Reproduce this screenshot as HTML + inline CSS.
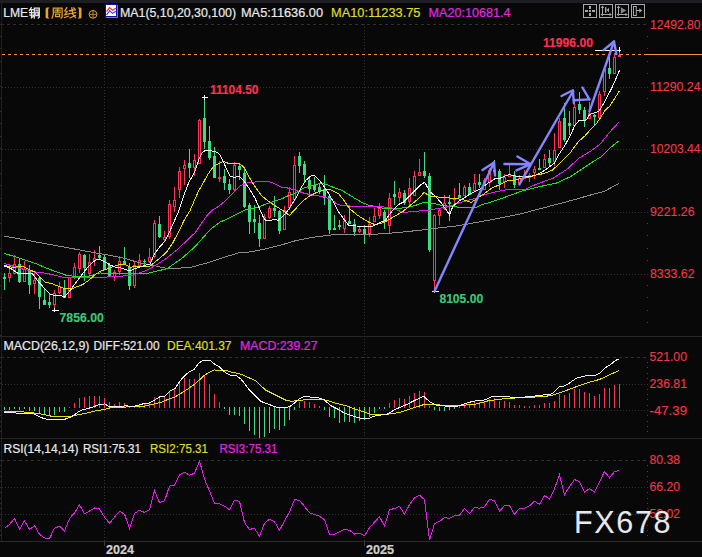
<!DOCTYPE html><html><head><meta charset="utf-8"><style>html,body{margin:0;padding:0;background:#080808;overflow:hidden}svg{display:block}</style></head><body><svg width="702" height="557" viewBox="0 0 702 557"><rect x="0" y="0" width="702" height="557" fill="#080808"/><rect x="0" y="0" width="702" height="3" fill="#1d1e21"/><g shape-rendering="crispEdges"><rect x="1" y="3" width="1" height="538" fill="#202020"/><rect x="0" y="336" width="702" height="1" fill="#262626"/><rect x="0" y="438" width="702" height="1" fill="#262626"/><rect x="0" y="541" width="702" height="1" fill="#2a2a2a"/><line x1="2" y1="24.5" x2="648" y2="24.5" stroke="#2f2f2f" stroke-width="1" stroke-dasharray="3 3" stroke-dashoffset="1"/><line x1="2" y1="87.5" x2="648" y2="87.5" stroke="#303030" stroke-width="1" stroke-dasharray="1 2"/><line x1="2" y1="149.5" x2="648" y2="149.5" stroke="#303030" stroke-width="1" stroke-dasharray="1 2"/><line x1="2" y1="212.5" x2="648" y2="212.5" stroke="#303030" stroke-width="1" stroke-dasharray="1 2"/><line x1="2" y1="274.5" x2="648" y2="274.5" stroke="#303030" stroke-width="1" stroke-dasharray="1 2"/><line x1="2" y1="357.5" x2="648" y2="357.5" stroke="#2f2f2f" stroke-width="1" stroke-dasharray="3 3" stroke-dashoffset="1"/><line x1="2" y1="384.5" x2="648" y2="384.5" stroke="#303030" stroke-width="1" stroke-dasharray="1 2"/><line x1="2" y1="410.5" x2="648" y2="410.5" stroke="#303030" stroke-width="1" stroke-dasharray="1 2"/><line x1="2" y1="460.5" x2="648" y2="460.5" stroke="#2f2f2f" stroke-width="1" stroke-dasharray="3 3" stroke-dashoffset="1"/><line x1="2" y1="487.5" x2="648" y2="487.5" stroke="#303030" stroke-width="1" stroke-dasharray="1 2"/><line x1="2" y1="514.5" x2="648" y2="514.5" stroke="#303030" stroke-width="1" stroke-dasharray="1 2"/><line x1="104.5" y1="24" x2="104.5" y2="336" stroke="#303030" stroke-width="1" stroke-dasharray="1 2"/><line x1="104.5" y1="339" x2="104.5" y2="438" stroke="#303030" stroke-width="1" stroke-dasharray="1 2"/><line x1="104.5" y1="441" x2="104.5" y2="541" stroke="#303030" stroke-width="1" stroke-dasharray="1 2"/><rect x="104" y="542" width="1" height="4" fill="#3a3a3a"/><line x1="364.5" y1="24" x2="364.5" y2="336" stroke="#303030" stroke-width="1" stroke-dasharray="1 2"/><line x1="364.5" y1="339" x2="364.5" y2="438" stroke="#303030" stroke-width="1" stroke-dasharray="1 2"/><line x1="364.5" y1="441" x2="364.5" y2="541" stroke="#303030" stroke-width="1" stroke-dasharray="1 2"/><rect x="364" y="542" width="1" height="4" fill="#3a3a3a"/><rect x="647" y="36" width="1" height="1" fill="#444"/><rect x="647" y="48" width="1" height="1" fill="#444"/><rect x="647" y="61" width="1" height="1" fill="#444"/><rect x="647" y="73" width="1" height="1" fill="#444"/><rect x="647" y="98" width="1" height="1" fill="#444"/><rect x="647" y="111" width="1" height="1" fill="#444"/><rect x="647" y="123" width="1" height="1" fill="#444"/><rect x="647" y="136" width="1" height="1" fill="#444"/><rect x="647" y="160" width="1" height="1" fill="#444"/><rect x="647" y="173" width="1" height="1" fill="#444"/><rect x="647" y="185" width="1" height="1" fill="#444"/><rect x="647" y="198" width="1" height="1" fill="#444"/><rect x="647" y="223" width="1" height="1" fill="#444"/><rect x="647" y="235" width="1" height="1" fill="#444"/><rect x="647" y="248" width="1" height="1" fill="#444"/><rect x="647" y="260" width="1" height="1" fill="#444"/><rect x="647" y="285" width="1" height="1" fill="#444"/><rect x="647" y="297" width="1" height="1" fill="#444"/><rect x="647" y="310" width="1" height="1" fill="#444"/><rect x="647" y="322" width="1" height="1" fill="#444"/><rect x="647" y="362" width="1" height="1" fill="#444"/><rect x="647" y="367" width="1" height="1" fill="#444"/><rect x="647" y="373" width="1" height="1" fill="#444"/><rect x="647" y="378" width="1" height="1" fill="#444"/><rect x="647" y="389" width="1" height="1" fill="#444"/><rect x="647" y="394" width="1" height="1" fill="#444"/><rect x="647" y="399" width="1" height="1" fill="#444"/><rect x="647" y="405" width="1" height="1" fill="#444"/><rect x="647" y="415" width="1" height="1" fill="#444"/><rect x="647" y="421" width="1" height="1" fill="#444"/><rect x="647" y="426" width="1" height="1" fill="#444"/><rect x="647" y="431" width="1" height="1" fill="#444"/><rect x="647" y="465" width="1" height="1" fill="#444"/><rect x="647" y="471" width="1" height="1" fill="#444"/><rect x="647" y="476" width="1" height="1" fill="#444"/><rect x="647" y="481" width="1" height="1" fill="#444"/><rect x="647" y="492" width="1" height="1" fill="#444"/><rect x="647" y="498" width="1" height="1" fill="#444"/><rect x="647" y="503" width="1" height="1" fill="#444"/><rect x="647" y="508" width="1" height="1" fill="#444"/><rect x="647" y="519" width="1" height="1" fill="#444"/><rect x="647" y="525" width="1" height="1" fill="#444"/><rect x="647" y="530" width="1" height="1" fill="#444"/><rect x="647" y="535" width="1" height="1" fill="#444"/><rect x="0" y="24" width="1" height="1" fill="#2c2c2c"/><rect x="0" y="36" width="1" height="1" fill="#2c2c2c"/><rect x="0" y="48" width="1" height="1" fill="#2c2c2c"/><rect x="0" y="61" width="1" height="1" fill="#2c2c2c"/><rect x="0" y="73" width="1" height="1" fill="#2c2c2c"/><rect x="0" y="86" width="1" height="1" fill="#2c2c2c"/><rect x="0" y="98" width="1" height="1" fill="#2c2c2c"/><rect x="0" y="111" width="1" height="1" fill="#2c2c2c"/><rect x="0" y="123" width="1" height="1" fill="#2c2c2c"/><rect x="0" y="136" width="1" height="1" fill="#2c2c2c"/><rect x="0" y="148" width="1" height="1" fill="#2c2c2c"/><rect x="0" y="160" width="1" height="1" fill="#2c2c2c"/><rect x="0" y="173" width="1" height="1" fill="#2c2c2c"/><rect x="0" y="185" width="1" height="1" fill="#2c2c2c"/><rect x="0" y="198" width="1" height="1" fill="#2c2c2c"/><rect x="0" y="210" width="1" height="1" fill="#2c2c2c"/><rect x="0" y="223" width="1" height="1" fill="#2c2c2c"/><rect x="0" y="235" width="1" height="1" fill="#2c2c2c"/><rect x="0" y="248" width="1" height="1" fill="#2c2c2c"/><rect x="0" y="260" width="1" height="1" fill="#2c2c2c"/><rect x="0" y="273" width="1" height="1" fill="#2c2c2c"/><rect x="0" y="285" width="1" height="1" fill="#2c2c2c"/><rect x="0" y="297" width="1" height="1" fill="#2c2c2c"/><rect x="0" y="310" width="1" height="1" fill="#2c2c2c"/><rect x="0" y="322" width="1" height="1" fill="#2c2c2c"/><rect x="0" y="335" width="1" height="1" fill="#2c2c2c"/><rect x="0" y="357" width="1" height="1" fill="#2c2c2c"/><rect x="0" y="362" width="1" height="1" fill="#2c2c2c"/><rect x="0" y="367" width="1" height="1" fill="#2c2c2c"/><rect x="0" y="373" width="1" height="1" fill="#2c2c2c"/><rect x="0" y="378" width="1" height="1" fill="#2c2c2c"/><rect x="0" y="383" width="1" height="1" fill="#2c2c2c"/><rect x="0" y="389" width="1" height="1" fill="#2c2c2c"/><rect x="0" y="394" width="1" height="1" fill="#2c2c2c"/><rect x="0" y="399" width="1" height="1" fill="#2c2c2c"/><rect x="0" y="405" width="1" height="1" fill="#2c2c2c"/><rect x="0" y="410" width="1" height="1" fill="#2c2c2c"/><rect x="0" y="415" width="1" height="1" fill="#2c2c2c"/><rect x="0" y="421" width="1" height="1" fill="#2c2c2c"/><rect x="0" y="426" width="1" height="1" fill="#2c2c2c"/><rect x="0" y="431" width="1" height="1" fill="#2c2c2c"/><rect x="0" y="460" width="1" height="1" fill="#2c2c2c"/><rect x="0" y="465" width="1" height="1" fill="#2c2c2c"/><rect x="0" y="471" width="1" height="1" fill="#2c2c2c"/><rect x="0" y="476" width="1" height="1" fill="#2c2c2c"/><rect x="0" y="481" width="1" height="1" fill="#2c2c2c"/><rect x="0" y="487" width="1" height="1" fill="#2c2c2c"/><rect x="0" y="492" width="1" height="1" fill="#2c2c2c"/><rect x="0" y="498" width="1" height="1" fill="#2c2c2c"/><rect x="0" y="503" width="1" height="1" fill="#2c2c2c"/><rect x="0" y="508" width="1" height="1" fill="#2c2c2c"/><rect x="0" y="514" width="1" height="1" fill="#2c2c2c"/><rect x="0" y="519" width="1" height="1" fill="#2c2c2c"/><rect x="0" y="525" width="1" height="1" fill="#2c2c2c"/><rect x="0" y="530" width="1" height="1" fill="#2c2c2c"/><rect x="0" y="535" width="1" height="1" fill="#2c2c2c"/></g><line x1="2" y1="54.5" x2="644" y2="54.5" stroke="#f0962a" stroke-width="1" stroke-dasharray="3 3" shape-rendering="crispEdges"/><rect x="644" y="54" width="58" height="1" fill="#f0962a"/><g shape-rendering="crispEdges"><rect x="4" y="273" width="1" height="17" fill="#3ddc84"/><rect x="3" y="277" width="3" height="2" fill="#3ddc84"/><rect x="9" y="264" width="1" height="9" fill="#ff3358"/><rect x="9" y="278" width="1" height="4" fill="#ff3358"/><rect x="8" y="273" width="3" height="1" fill="#ff3358"/><rect x="8" y="277" width="3" height="1" fill="#ff3358"/><rect x="8" y="273" width="1" height="5" fill="#ff3358"/><rect x="10" y="273" width="1" height="5" fill="#ff3358"/><rect x="14" y="255" width="1" height="9" fill="#ff3358"/><rect x="13" y="264" width="3" height="1" fill="#ff3358"/><rect x="13" y="273" width="3" height="1" fill="#ff3358"/><rect x="13" y="264" width="1" height="10" fill="#ff3358"/><rect x="15" y="264" width="1" height="10" fill="#ff3358"/><rect x="19" y="259" width="1" height="24" fill="#3ddc84"/><rect x="18" y="264" width="3" height="18" fill="#3ddc84"/><rect x="24" y="261" width="1" height="8" fill="#ff3358"/><rect x="23" y="269" width="3" height="1" fill="#ff3358"/><rect x="23" y="281" width="3" height="1" fill="#ff3358"/><rect x="23" y="269" width="1" height="13" fill="#ff3358"/><rect x="25" y="269" width="1" height="13" fill="#ff3358"/><rect x="29" y="265" width="1" height="29" fill="#3ddc84"/><rect x="28" y="270" width="3" height="15" fill="#3ddc84"/><rect x="34" y="272" width="1" height="8" fill="#ff3358"/><rect x="34" y="284" width="1" height="10" fill="#ff3358"/><rect x="33" y="280" width="3" height="1" fill="#ff3358"/><rect x="33" y="283" width="3" height="1" fill="#ff3358"/><rect x="33" y="280" width="1" height="4" fill="#ff3358"/><rect x="35" y="280" width="1" height="4" fill="#ff3358"/><rect x="39" y="277" width="1" height="32" fill="#3ddc84"/><rect x="38" y="278" width="3" height="19" fill="#3ddc84"/><rect x="44" y="288" width="1" height="17" fill="#3ddc84"/><rect x="43" y="300" width="3" height="5" fill="#3ddc84"/><rect x="49" y="294" width="1" height="14" fill="#3ddc84"/><rect x="48" y="302" width="3" height="3" fill="#3ddc84"/><rect x="54" y="290" width="1" height="3" fill="#ff3358"/><rect x="54" y="305" width="1" height="5" fill="#ff3358"/><rect x="53" y="293" width="3" height="1" fill="#ff3358"/><rect x="53" y="304" width="3" height="1" fill="#ff3358"/><rect x="53" y="293" width="1" height="12" fill="#ff3358"/><rect x="55" y="293" width="1" height="12" fill="#ff3358"/><rect x="59" y="282" width="1" height="4" fill="#ff3358"/><rect x="59" y="293" width="1" height="1" fill="#ff3358"/><rect x="58" y="286" width="3" height="1" fill="#ff3358"/><rect x="58" y="292" width="3" height="1" fill="#ff3358"/><rect x="58" y="286" width="1" height="7" fill="#ff3358"/><rect x="60" y="286" width="1" height="7" fill="#ff3358"/><rect x="64" y="280" width="1" height="18" fill="#3ddc84"/><rect x="63" y="288" width="3" height="10" fill="#3ddc84"/><rect x="68" y="277" width="3" height="1" fill="#ff3358"/><rect x="68" y="297" width="3" height="1" fill="#ff3358"/><rect x="68" y="277" width="1" height="21" fill="#ff3358"/><rect x="70" y="277" width="1" height="21" fill="#ff3358"/><rect x="74" y="263" width="1" height="4" fill="#ff3358"/><rect x="74" y="278" width="1" height="1" fill="#ff3358"/><rect x="73" y="267" width="3" height="1" fill="#ff3358"/><rect x="73" y="277" width="3" height="1" fill="#ff3358"/><rect x="73" y="267" width="1" height="11" fill="#ff3358"/><rect x="75" y="267" width="1" height="11" fill="#ff3358"/><rect x="79" y="252" width="1" height="2" fill="#ff3358"/><rect x="79" y="269" width="1" height="4" fill="#ff3358"/><rect x="78" y="254" width="3" height="1" fill="#ff3358"/><rect x="78" y="268" width="3" height="1" fill="#ff3358"/><rect x="78" y="254" width="1" height="15" fill="#ff3358"/><rect x="80" y="254" width="1" height="15" fill="#ff3358"/><rect x="84" y="254" width="1" height="27" fill="#3ddc84"/><rect x="83" y="255" width="3" height="13" fill="#3ddc84"/><rect x="89" y="254" width="1" height="8" fill="#ff3358"/><rect x="89" y="274" width="1" height="4" fill="#ff3358"/><rect x="88" y="262" width="3" height="1" fill="#ff3358"/><rect x="88" y="273" width="3" height="1" fill="#ff3358"/><rect x="88" y="262" width="1" height="12" fill="#ff3358"/><rect x="90" y="262" width="1" height="12" fill="#ff3358"/><rect x="94" y="250" width="1" height="8" fill="#ff3358"/><rect x="94" y="261" width="1" height="5" fill="#ff3358"/><rect x="93" y="258" width="3" height="1" fill="#ff3358"/><rect x="93" y="260" width="3" height="1" fill="#ff3358"/><rect x="93" y="258" width="1" height="3" fill="#ff3358"/><rect x="95" y="258" width="1" height="3" fill="#ff3358"/><rect x="99" y="246" width="1" height="13" fill="#3ddc84"/><rect x="98" y="255" width="3" height="3" fill="#3ddc84"/><rect x="104" y="255" width="1" height="15" fill="#3ddc84"/><rect x="103" y="257" width="3" height="13" fill="#3ddc84"/><rect x="109" y="263" width="1" height="14" fill="#3ddc84"/><rect x="108" y="265" width="3" height="12" fill="#3ddc84"/><rect x="114" y="270" width="1" height="2" fill="#ff3358"/><rect x="114" y="277" width="1" height="4" fill="#ff3358"/><rect x="113" y="272" width="3" height="1" fill="#ff3358"/><rect x="113" y="276" width="3" height="1" fill="#ff3358"/><rect x="113" y="272" width="1" height="5" fill="#ff3358"/><rect x="115" y="272" width="1" height="5" fill="#ff3358"/><rect x="119" y="256" width="1" height="5" fill="#ff3358"/><rect x="119" y="272" width="1" height="3" fill="#ff3358"/><rect x="118" y="261" width="3" height="1" fill="#ff3358"/><rect x="118" y="271" width="3" height="1" fill="#ff3358"/><rect x="118" y="261" width="1" height="11" fill="#ff3358"/><rect x="120" y="261" width="1" height="11" fill="#ff3358"/><rect x="124" y="247" width="1" height="18" fill="#3ddc84"/><rect x="123" y="261" width="3" height="3" fill="#3ddc84"/><rect x="129" y="263" width="1" height="27" fill="#3ddc84"/><rect x="128" y="267" width="3" height="19" fill="#3ddc84"/><rect x="134" y="262" width="1" height="3" fill="#ff3358"/><rect x="134" y="286" width="1" height="2" fill="#ff3358"/><rect x="133" y="265" width="3" height="1" fill="#ff3358"/><rect x="133" y="285" width="3" height="1" fill="#ff3358"/><rect x="133" y="265" width="1" height="21" fill="#ff3358"/><rect x="135" y="265" width="1" height="21" fill="#ff3358"/><rect x="139" y="254" width="1" height="6" fill="#ff3358"/><rect x="139" y="266" width="1" height="2" fill="#ff3358"/><rect x="138" y="260" width="3" height="1" fill="#ff3358"/><rect x="138" y="265" width="3" height="1" fill="#ff3358"/><rect x="138" y="260" width="1" height="6" fill="#ff3358"/><rect x="140" y="260" width="1" height="6" fill="#ff3358"/><rect x="144" y="259" width="1" height="6" fill="#3ddc84"/><rect x="143" y="261" width="3" height="1" fill="#3ddc84"/><rect x="149" y="248" width="1" height="9" fill="#ff3358"/><rect x="149" y="262" width="1" height="1" fill="#ff3358"/><rect x="148" y="257" width="3" height="1" fill="#ff3358"/><rect x="148" y="261" width="3" height="1" fill="#ff3358"/><rect x="148" y="257" width="1" height="5" fill="#ff3358"/><rect x="150" y="257" width="1" height="5" fill="#ff3358"/><rect x="154" y="220" width="1" height="3" fill="#ff3358"/><rect x="154" y="257" width="1" height="1" fill="#ff3358"/><rect x="153" y="223" width="3" height="1" fill="#ff3358"/><rect x="153" y="256" width="3" height="1" fill="#ff3358"/><rect x="153" y="223" width="1" height="34" fill="#ff3358"/><rect x="155" y="223" width="1" height="34" fill="#ff3358"/><rect x="159" y="216" width="1" height="22" fill="#3ddc84"/><rect x="158" y="224" width="3" height="13" fill="#3ddc84"/><rect x="164" y="231" width="1" height="6" fill="#ff3358"/><rect x="164" y="240" width="1" height="2" fill="#ff3358"/><rect x="163" y="237" width="3" height="1" fill="#ff3358"/><rect x="163" y="239" width="3" height="1" fill="#ff3358"/><rect x="163" y="237" width="1" height="3" fill="#ff3358"/><rect x="165" y="237" width="1" height="3" fill="#ff3358"/><rect x="169" y="200" width="1" height="4" fill="#ff3358"/><rect x="169" y="237" width="1" height="2" fill="#ff3358"/><rect x="168" y="204" width="3" height="1" fill="#ff3358"/><rect x="168" y="236" width="3" height="1" fill="#ff3358"/><rect x="168" y="204" width="1" height="33" fill="#ff3358"/><rect x="170" y="204" width="1" height="33" fill="#ff3358"/><rect x="174" y="187" width="1" height="13" fill="#ff3358"/><rect x="174" y="207" width="1" height="5" fill="#ff3358"/><rect x="173" y="200" width="3" height="1" fill="#ff3358"/><rect x="173" y="206" width="3" height="1" fill="#ff3358"/><rect x="173" y="200" width="1" height="7" fill="#ff3358"/><rect x="175" y="200" width="1" height="7" fill="#ff3358"/><rect x="179" y="167" width="1" height="4" fill="#ff3358"/><rect x="179" y="190" width="1" height="8" fill="#ff3358"/><rect x="178" y="171" width="3" height="1" fill="#ff3358"/><rect x="178" y="189" width="3" height="1" fill="#ff3358"/><rect x="178" y="171" width="1" height="19" fill="#ff3358"/><rect x="180" y="171" width="1" height="19" fill="#ff3358"/><rect x="184" y="160" width="1" height="5" fill="#ff3358"/><rect x="184" y="169" width="1" height="16" fill="#ff3358"/><rect x="183" y="165" width="3" height="1" fill="#ff3358"/><rect x="183" y="168" width="3" height="1" fill="#ff3358"/><rect x="183" y="165" width="1" height="4" fill="#ff3358"/><rect x="185" y="165" width="1" height="4" fill="#ff3358"/><rect x="189" y="149" width="1" height="29" fill="#3ddc84"/><rect x="188" y="163" width="3" height="5" fill="#3ddc84"/><rect x="194" y="154" width="1" height="6" fill="#ff3358"/><rect x="194" y="168" width="1" height="8" fill="#ff3358"/><rect x="193" y="160" width="3" height="1" fill="#ff3358"/><rect x="193" y="167" width="3" height="1" fill="#ff3358"/><rect x="193" y="160" width="1" height="8" fill="#ff3358"/><rect x="195" y="160" width="1" height="8" fill="#ff3358"/><rect x="199" y="119" width="1" height="1" fill="#ff3358"/><rect x="198" y="120" width="3" height="1" fill="#ff3358"/><rect x="198" y="163" width="3" height="1" fill="#ff3358"/><rect x="198" y="120" width="1" height="44" fill="#ff3358"/><rect x="200" y="120" width="1" height="44" fill="#ff3358"/><rect x="204" y="97" width="1" height="52" fill="#3ddc84"/><rect x="203" y="118" width="3" height="24" fill="#3ddc84"/><rect x="209" y="126" width="1" height="34" fill="#3ddc84"/><rect x="208" y="141" width="3" height="17" fill="#3ddc84"/><rect x="214" y="147" width="1" height="31" fill="#3ddc84"/><rect x="213" y="156" width="3" height="22" fill="#3ddc84"/><rect x="219" y="161" width="1" height="16" fill="#ff3358"/><rect x="219" y="179" width="1" height="3" fill="#ff3358"/><rect x="218" y="177" width="3" height="2" fill="#ff3358"/><rect x="224" y="169" width="1" height="21" fill="#3ddc84"/><rect x="223" y="176" width="3" height="7" fill="#3ddc84"/><rect x="229" y="179" width="1" height="15" fill="#3ddc84"/><rect x="228" y="184" width="3" height="6" fill="#3ddc84"/><rect x="234" y="162" width="1" height="3" fill="#ff3358"/><rect x="234" y="190" width="1" height="1" fill="#ff3358"/><rect x="233" y="165" width="3" height="1" fill="#ff3358"/><rect x="233" y="189" width="3" height="1" fill="#ff3358"/><rect x="233" y="165" width="1" height="25" fill="#ff3358"/><rect x="235" y="165" width="1" height="25" fill="#ff3358"/><rect x="239" y="164" width="1" height="16" fill="#3ddc84"/><rect x="238" y="166" width="3" height="4" fill="#3ddc84"/><rect x="244" y="167" width="1" height="41" fill="#3ddc84"/><rect x="243" y="173" width="3" height="34" fill="#3ddc84"/><rect x="249" y="203" width="1" height="31" fill="#3ddc84"/><rect x="248" y="205" width="3" height="17" fill="#3ddc84"/><rect x="254" y="205" width="1" height="28" fill="#3ddc84"/><rect x="253" y="219" width="3" height="3" fill="#3ddc84"/><rect x="259" y="215" width="1" height="32" fill="#3ddc84"/><rect x="258" y="223" width="3" height="16" fill="#3ddc84"/><rect x="264" y="214" width="1" height="3" fill="#ff3358"/><rect x="263" y="217" width="3" height="1" fill="#ff3358"/><rect x="263" y="238" width="3" height="1" fill="#ff3358"/><rect x="263" y="217" width="1" height="22" fill="#ff3358"/><rect x="265" y="217" width="1" height="22" fill="#ff3358"/><rect x="269" y="206" width="1" height="2" fill="#ff3358"/><rect x="269" y="218" width="1" height="1" fill="#ff3358"/><rect x="268" y="208" width="3" height="1" fill="#ff3358"/><rect x="268" y="217" width="3" height="1" fill="#ff3358"/><rect x="268" y="208" width="1" height="10" fill="#ff3358"/><rect x="270" y="208" width="1" height="10" fill="#ff3358"/><rect x="274" y="196" width="1" height="21" fill="#3ddc84"/><rect x="273" y="208" width="3" height="3" fill="#3ddc84"/><rect x="279" y="210" width="1" height="24" fill="#3ddc84"/><rect x="278" y="211" width="3" height="20" fill="#3ddc84"/><rect x="284" y="206" width="1" height="4" fill="#ff3358"/><rect x="283" y="210" width="3" height="1" fill="#ff3358"/><rect x="283" y="229" width="3" height="1" fill="#ff3358"/><rect x="283" y="210" width="1" height="20" fill="#ff3358"/><rect x="285" y="210" width="1" height="20" fill="#ff3358"/><rect x="289" y="187" width="1" height="5" fill="#ff3358"/><rect x="289" y="208" width="1" height="2" fill="#ff3358"/><rect x="288" y="192" width="3" height="1" fill="#ff3358"/><rect x="288" y="207" width="3" height="1" fill="#ff3358"/><rect x="288" y="192" width="1" height="16" fill="#ff3358"/><rect x="290" y="192" width="1" height="16" fill="#ff3358"/><rect x="294" y="156" width="1" height="9" fill="#ff3358"/><rect x="293" y="165" width="3" height="1" fill="#ff3358"/><rect x="293" y="199" width="3" height="1" fill="#ff3358"/><rect x="293" y="165" width="1" height="35" fill="#ff3358"/><rect x="295" y="165" width="1" height="35" fill="#ff3358"/><rect x="299" y="152" width="1" height="21" fill="#3ddc84"/><rect x="298" y="156" width="3" height="10" fill="#3ddc84"/><rect x="304" y="161" width="1" height="21" fill="#3ddc84"/><rect x="303" y="164" width="3" height="11" fill="#3ddc84"/><rect x="309" y="176" width="1" height="21" fill="#3ddc84"/><rect x="308" y="180" width="3" height="9" fill="#3ddc84"/><rect x="314" y="177" width="1" height="15" fill="#3ddc84"/><rect x="313" y="185" width="3" height="5" fill="#3ddc84"/><rect x="319" y="183" width="1" height="11" fill="#3ddc84"/><rect x="318" y="187" width="3" height="5" fill="#3ddc84"/><rect x="324" y="175" width="1" height="30" fill="#3ddc84"/><rect x="323" y="189" width="3" height="9" fill="#3ddc84"/><rect x="329" y="195" width="1" height="39" fill="#3ddc84"/><rect x="328" y="196" width="3" height="34" fill="#3ddc84"/><rect x="334" y="215" width="1" height="15" fill="#3ddc84"/><rect x="333" y="228" width="3" height="2" fill="#3ddc84"/><rect x="339" y="220" width="1" height="10" fill="#3ddc84"/><rect x="338" y="225" width="3" height="2" fill="#3ddc84"/><rect x="344" y="215" width="1" height="6" fill="#ff3358"/><rect x="344" y="229" width="1" height="4" fill="#ff3358"/><rect x="343" y="221" width="3" height="1" fill="#ff3358"/><rect x="343" y="228" width="3" height="1" fill="#ff3358"/><rect x="343" y="221" width="1" height="8" fill="#ff3358"/><rect x="345" y="221" width="1" height="8" fill="#ff3358"/><rect x="349" y="206" width="1" height="18" fill="#3ddc84"/><rect x="348" y="221" width="3" height="3" fill="#3ddc84"/><rect x="354" y="219" width="1" height="17" fill="#3ddc84"/><rect x="353" y="224" width="3" height="8" fill="#3ddc84"/><rect x="359" y="226" width="1" height="3" fill="#ff3358"/><rect x="359" y="232" width="1" height="1" fill="#ff3358"/><rect x="358" y="229" width="3" height="1" fill="#ff3358"/><rect x="358" y="231" width="3" height="1" fill="#ff3358"/><rect x="358" y="229" width="1" height="3" fill="#ff3358"/><rect x="360" y="229" width="1" height="3" fill="#ff3358"/><rect x="364" y="225" width="1" height="19" fill="#3ddc84"/><rect x="363" y="229" width="3" height="5" fill="#3ddc84"/><rect x="369" y="217" width="1" height="7" fill="#ff3358"/><rect x="369" y="234" width="1" height="3" fill="#ff3358"/><rect x="368" y="224" width="3" height="1" fill="#ff3358"/><rect x="368" y="233" width="3" height="1" fill="#ff3358"/><rect x="368" y="224" width="1" height="10" fill="#ff3358"/><rect x="370" y="224" width="1" height="10" fill="#ff3358"/><rect x="374" y="208" width="1" height="8" fill="#ff3358"/><rect x="373" y="216" width="3" height="1" fill="#ff3358"/><rect x="373" y="221" width="3" height="1" fill="#ff3358"/><rect x="373" y="216" width="1" height="6" fill="#ff3358"/><rect x="375" y="216" width="1" height="6" fill="#ff3358"/><rect x="379" y="203" width="1" height="5" fill="#ff3358"/><rect x="379" y="216" width="1" height="3" fill="#ff3358"/><rect x="378" y="208" width="3" height="1" fill="#ff3358"/><rect x="378" y="215" width="3" height="1" fill="#ff3358"/><rect x="378" y="208" width="1" height="8" fill="#ff3358"/><rect x="380" y="208" width="1" height="8" fill="#ff3358"/><rect x="384" y="210" width="1" height="19" fill="#3ddc84"/><rect x="383" y="212" width="3" height="10" fill="#3ddc84"/><rect x="389" y="193" width="1" height="5" fill="#ff3358"/><rect x="389" y="226" width="1" height="7" fill="#ff3358"/><rect x="388" y="198" width="3" height="1" fill="#ff3358"/><rect x="388" y="225" width="3" height="1" fill="#ff3358"/><rect x="388" y="198" width="1" height="28" fill="#ff3358"/><rect x="390" y="198" width="1" height="28" fill="#ff3358"/><rect x="394" y="181" width="1" height="24" fill="#3ddc84"/><rect x="393" y="194" width="3" height="3" fill="#3ddc84"/><rect x="399" y="188" width="1" height="4" fill="#ff3358"/><rect x="399" y="198" width="1" height="4" fill="#ff3358"/><rect x="398" y="192" width="3" height="1" fill="#ff3358"/><rect x="398" y="197" width="3" height="1" fill="#ff3358"/><rect x="398" y="192" width="1" height="6" fill="#ff3358"/><rect x="400" y="192" width="1" height="6" fill="#ff3358"/><rect x="404" y="190" width="1" height="15" fill="#3ddc84"/><rect x="403" y="193" width="3" height="10" fill="#3ddc84"/><rect x="409" y="178" width="1" height="10" fill="#ff3358"/><rect x="409" y="202" width="1" height="3" fill="#ff3358"/><rect x="408" y="188" width="3" height="1" fill="#ff3358"/><rect x="408" y="201" width="3" height="1" fill="#ff3358"/><rect x="408" y="188" width="1" height="14" fill="#ff3358"/><rect x="410" y="188" width="1" height="14" fill="#ff3358"/><rect x="414" y="171" width="1" height="5" fill="#ff3358"/><rect x="413" y="176" width="3" height="1" fill="#ff3358"/><rect x="413" y="195" width="3" height="1" fill="#ff3358"/><rect x="413" y="176" width="1" height="20" fill="#ff3358"/><rect x="415" y="176" width="1" height="20" fill="#ff3358"/><rect x="419" y="159" width="1" height="13" fill="#ff3358"/><rect x="418" y="172" width="3" height="1" fill="#ff3358"/><rect x="418" y="175" width="3" height="1" fill="#ff3358"/><rect x="418" y="172" width="1" height="4" fill="#ff3358"/><rect x="420" y="172" width="1" height="4" fill="#ff3358"/><rect x="424" y="152" width="1" height="26" fill="#3ddc84"/><rect x="423" y="171" width="3" height="5" fill="#3ddc84"/><rect x="429" y="173" width="1" height="79" fill="#3ddc84"/><rect x="428" y="176" width="3" height="74" fill="#3ddc84"/><rect x="434" y="214" width="1" height="1" fill="#ff3358"/><rect x="434" y="281" width="1" height="10" fill="#ff3358"/><rect x="433" y="215" width="3" height="1" fill="#ff3358"/><rect x="433" y="280" width="3" height="1" fill="#ff3358"/><rect x="433" y="215" width="1" height="66" fill="#ff3358"/><rect x="435" y="215" width="1" height="66" fill="#ff3358"/><rect x="439" y="208" width="1" height="2" fill="#ff3358"/><rect x="439" y="216" width="1" height="9" fill="#ff3358"/><rect x="438" y="210" width="3" height="1" fill="#ff3358"/><rect x="438" y="215" width="3" height="1" fill="#ff3358"/><rect x="438" y="210" width="1" height="6" fill="#ff3358"/><rect x="440" y="210" width="1" height="6" fill="#ff3358"/><rect x="444" y="195" width="1" height="8" fill="#ff3358"/><rect x="444" y="209" width="1" height="1" fill="#ff3358"/><rect x="443" y="203" width="3" height="1" fill="#ff3358"/><rect x="443" y="208" width="3" height="1" fill="#ff3358"/><rect x="443" y="203" width="1" height="6" fill="#ff3358"/><rect x="445" y="203" width="1" height="6" fill="#ff3358"/><rect x="449" y="195" width="1" height="26" fill="#3ddc84"/><rect x="448" y="202" width="3" height="2" fill="#3ddc84"/><rect x="454" y="188" width="1" height="10" fill="#ff3358"/><rect x="454" y="200" width="1" height="5" fill="#ff3358"/><rect x="453" y="198" width="3" height="2" fill="#ff3358"/><rect x="459" y="183" width="1" height="15" fill="#3ddc84"/><rect x="458" y="195" width="3" height="3" fill="#3ddc84"/><rect x="464" y="185" width="1" height="2" fill="#ff3358"/><rect x="463" y="187" width="3" height="1" fill="#ff3358"/><rect x="463" y="195" width="3" height="1" fill="#ff3358"/><rect x="463" y="187" width="1" height="9" fill="#ff3358"/><rect x="465" y="187" width="1" height="9" fill="#ff3358"/><rect x="469" y="183" width="1" height="12" fill="#3ddc84"/><rect x="468" y="187" width="3" height="8" fill="#3ddc84"/><rect x="474" y="174" width="1" height="9" fill="#ff3358"/><rect x="474" y="191" width="1" height="1" fill="#ff3358"/><rect x="473" y="183" width="3" height="1" fill="#ff3358"/><rect x="473" y="190" width="3" height="1" fill="#ff3358"/><rect x="473" y="183" width="1" height="8" fill="#ff3358"/><rect x="475" y="183" width="1" height="8" fill="#ff3358"/><rect x="479" y="174" width="1" height="14" fill="#3ddc84"/><rect x="478" y="182" width="3" height="3" fill="#3ddc84"/><rect x="484" y="178" width="1" height="2" fill="#ff3358"/><rect x="483" y="180" width="3" height="1" fill="#ff3358"/><rect x="483" y="189" width="3" height="1" fill="#ff3358"/><rect x="483" y="180" width="1" height="10" fill="#ff3358"/><rect x="485" y="180" width="1" height="10" fill="#ff3358"/><rect x="489" y="168" width="1" height="2" fill="#ff3358"/><rect x="489" y="183" width="1" height="4" fill="#ff3358"/><rect x="488" y="170" width="3" height="1" fill="#ff3358"/><rect x="488" y="182" width="3" height="1" fill="#ff3358"/><rect x="488" y="170" width="1" height="13" fill="#ff3358"/><rect x="490" y="170" width="1" height="13" fill="#ff3358"/><rect x="494" y="160" width="1" height="12" fill="#3ddc84"/><rect x="493" y="170" width="3" height="2" fill="#3ddc84"/><rect x="499" y="169" width="1" height="21" fill="#3ddc84"/><rect x="498" y="171" width="3" height="13" fill="#3ddc84"/><rect x="504" y="174" width="1" height="3" fill="#ff3358"/><rect x="504" y="182" width="1" height="6" fill="#ff3358"/><rect x="503" y="177" width="3" height="1" fill="#ff3358"/><rect x="503" y="181" width="3" height="1" fill="#ff3358"/><rect x="503" y="177" width="1" height="5" fill="#ff3358"/><rect x="505" y="177" width="1" height="5" fill="#ff3358"/><rect x="509" y="165" width="1" height="9" fill="#ff3358"/><rect x="508" y="174" width="3" height="1" fill="#ff3358"/><rect x="508" y="176" width="3" height="1" fill="#ff3358"/><rect x="508" y="174" width="1" height="3" fill="#ff3358"/><rect x="510" y="174" width="1" height="3" fill="#ff3358"/><rect x="514" y="171" width="1" height="17" fill="#3ddc84"/><rect x="513" y="175" width="3" height="10" fill="#3ddc84"/><rect x="519" y="175" width="1" height="3" fill="#ff3358"/><rect x="518" y="178" width="3" height="1" fill="#ff3358"/><rect x="518" y="183" width="3" height="1" fill="#ff3358"/><rect x="518" y="178" width="1" height="6" fill="#ff3358"/><rect x="520" y="178" width="1" height="6" fill="#ff3358"/><rect x="524" y="170" width="1" height="7" fill="#ff3358"/><rect x="523" y="177" width="3" height="2" fill="#ff3358"/><rect x="529" y="173" width="1" height="2" fill="#ff3358"/><rect x="529" y="178" width="1" height="4" fill="#ff3358"/><rect x="528" y="175" width="3" height="1" fill="#ff3358"/><rect x="528" y="177" width="3" height="1" fill="#ff3358"/><rect x="528" y="175" width="1" height="3" fill="#ff3358"/><rect x="530" y="175" width="1" height="3" fill="#ff3358"/><rect x="534" y="166" width="1" height="3" fill="#ff3358"/><rect x="534" y="173" width="1" height="6" fill="#ff3358"/><rect x="533" y="169" width="3" height="1" fill="#ff3358"/><rect x="533" y="172" width="3" height="1" fill="#ff3358"/><rect x="533" y="169" width="1" height="4" fill="#ff3358"/><rect x="535" y="169" width="1" height="4" fill="#ff3358"/><rect x="539" y="159" width="1" height="11" fill="#3ddc84"/><rect x="538" y="168" width="3" height="2" fill="#3ddc84"/><rect x="544" y="154" width="1" height="5" fill="#ff3358"/><rect x="543" y="159" width="3" height="1" fill="#ff3358"/><rect x="543" y="167" width="3" height="1" fill="#ff3358"/><rect x="543" y="159" width="1" height="9" fill="#ff3358"/><rect x="545" y="159" width="1" height="9" fill="#ff3358"/><rect x="549" y="150" width="1" height="16" fill="#3ddc84"/><rect x="548" y="158" width="3" height="5" fill="#3ddc84"/><rect x="554" y="133" width="1" height="17" fill="#ff3358"/><rect x="554" y="162" width="1" height="4" fill="#ff3358"/><rect x="553" y="150" width="3" height="1" fill="#ff3358"/><rect x="553" y="161" width="3" height="1" fill="#ff3358"/><rect x="553" y="150" width="1" height="12" fill="#ff3358"/><rect x="555" y="150" width="1" height="12" fill="#ff3358"/><rect x="559" y="118" width="1" height="3" fill="#ff3358"/><rect x="558" y="121" width="3" height="1" fill="#ff3358"/><rect x="558" y="147" width="3" height="1" fill="#ff3358"/><rect x="558" y="121" width="1" height="27" fill="#ff3358"/><rect x="560" y="121" width="1" height="27" fill="#ff3358"/><rect x="564" y="103" width="1" height="39" fill="#3ddc84"/><rect x="563" y="118" width="3" height="22" fill="#3ddc84"/><rect x="569" y="111" width="1" height="24" fill="#3ddc84"/><rect x="568" y="123" width="3" height="3" fill="#3ddc84"/><rect x="574" y="104" width="1" height="3" fill="#ff3358"/><rect x="573" y="107" width="3" height="1" fill="#ff3358"/><rect x="573" y="125" width="3" height="1" fill="#ff3358"/><rect x="573" y="107" width="1" height="19" fill="#ff3358"/><rect x="575" y="107" width="1" height="19" fill="#ff3358"/><rect x="579" y="92" width="1" height="22" fill="#3ddc84"/><rect x="578" y="104" width="3" height="6" fill="#3ddc84"/><rect x="584" y="107" width="1" height="20" fill="#3ddc84"/><rect x="583" y="110" width="3" height="10" fill="#3ddc84"/><rect x="589" y="102" width="1" height="11" fill="#ff3358"/><rect x="588" y="113" width="3" height="1" fill="#ff3358"/><rect x="588" y="118" width="3" height="1" fill="#ff3358"/><rect x="588" y="113" width="1" height="6" fill="#ff3358"/><rect x="590" y="113" width="1" height="6" fill="#ff3358"/><rect x="594" y="114" width="1" height="11" fill="#3ddc84"/><rect x="593" y="115" width="3" height="2" fill="#3ddc84"/><rect x="599" y="91" width="1" height="3" fill="#ff3358"/><rect x="598" y="94" width="3" height="1" fill="#ff3358"/><rect x="598" y="117" width="3" height="1" fill="#ff3358"/><rect x="598" y="94" width="1" height="24" fill="#ff3358"/><rect x="600" y="94" width="1" height="24" fill="#ff3358"/><rect x="604" y="66" width="1" height="3" fill="#ff3358"/><rect x="604" y="92" width="1" height="4" fill="#ff3358"/><rect x="603" y="69" width="3" height="1" fill="#ff3358"/><rect x="603" y="91" width="3" height="1" fill="#ff3358"/><rect x="603" y="69" width="1" height="23" fill="#ff3358"/><rect x="605" y="69" width="1" height="23" fill="#ff3358"/><rect x="609" y="52" width="1" height="27" fill="#3ddc84"/><rect x="608" y="68" width="3" height="6" fill="#3ddc84"/><rect x="614" y="53" width="1" height="4" fill="#ff3358"/><rect x="613" y="57" width="3" height="1" fill="#ff3358"/><rect x="613" y="73" width="3" height="1" fill="#ff3358"/><rect x="613" y="57" width="1" height="17" fill="#ff3358"/><rect x="615" y="57" width="1" height="17" fill="#ff3358"/><rect x="619" y="48" width="1" height="9" fill="#ff3358"/><rect x="618" y="55" width="3" height="2" fill="#ff3358"/></g><polyline points="4.3,236.1 50.0,244.5 100.0,253.7 109.4,255.2 123.7,258.1 138.1,262.4 152.5,265.3 166.8,268.4 188.8,267.8 207.7,262.8 226.5,256.5 239.1,252.8 251.5,251.8 265.9,248.9 280.2,245.3 294.6,241.0 311.8,237.4 329.1,235.2 340.0,234.2 349.4,234.7 363.7,234.7 376.7,234.1 392.5,233.0 406.8,231.6 421.2,230.1 435.0,228.4 457.5,225.8 491.8,219.7 520.0,214.0 573.2,200.0 590.5,195.0 604.0,191.5 619.2,183.3" fill="none" stroke="#8c8c8c" stroke-width="1" shape-rendering="crispEdges"/><polyline points="4.3,253.4 21.5,258.7 36.0,263.7 50.0,269.5 66.0,275.2 77.6,276.7 89.0,276.0 100.0,273.0 123.7,273.6 145.3,273.9 156.8,271.0 166.8,268.9 170.0,266.6 182.6,257.8 195.1,246.5 210.2,229.5 220.3,222.0 232.8,216.3 245.4,210.0 250.0,208.8 254.4,208.2 268.7,203.2 283.1,198.2 286.3,196.5 296.0,192.7 303.5,188.3 311.1,185.8 318.6,183.9 324.9,183.9 332.5,187.0 341.3,190.2 348.8,194.6 356.0,199.0 362.3,202.6 368.6,205.2 377.4,207.0 383.7,208.3 391.2,208.7 400.0,208.3 408.8,207.0 416.0,205.2 423.5,202.5 432.4,203.3 441.2,205.2 451.2,206.7 466.3,207.5 476.0,207.5 481.8,204.7 491.8,201.8 506.2,196.8 520.0,191.7 524.4,190.4 538.7,186.8 556.0,183.2 570.3,176.8 581.2,169.5 596.0,159.8 601.7,156.4 611.0,147.1 619.2,140.6" fill="none" stroke="#22e01e" stroke-width="1" shape-rendering="crispEdges"/><polyline points="4.3,263.4 21.5,268.8 36.0,272.0 47.4,273.5 61.8,277.0 77.6,277.4 92.0,278.0 100.0,277.4 116.6,276.5 132.4,275.3 145.3,271.0 156.8,264.6 166.8,258.1 170.0,255.3 177.5,249.6 195.1,232.7 206.4,216.3 212.6,210.0 219.1,206.0 226.6,199.6 232.6,193.2 239.8,186.0 245.0,183.8 248.6,182.4 261.6,181.6 271.6,182.1 281.7,187.4 286.3,187.7 296.0,190.2 302.3,192.7 312.4,195.2 323.7,196.5 332.5,200.3 337.5,204.7 348.8,205.9 356.0,206.5 368.6,207.0 381.2,206.7 391.2,207.7 398.8,210.8 403.8,212.5 410.1,211.7 416.0,211.2 428.6,210.3 437.4,208.4 444.9,207.5 452.5,205.2 460.0,202.5 466.3,200.8 476.0,198.3 484.7,194.6 496.1,191.7 507.6,189.6 520.0,190.0 524.4,189.7 531.6,186.1 543.0,181.8 553.1,178.2 567.5,168.9 579.0,158.1 590.3,151.3 600.0,144.3 608.7,133.3 619.2,121.9" fill="none" stroke="#e020e8" stroke-width="1" shape-rendering="crispEdges"/><polyline points="3.8,265.2 12.6,267.4 22.6,266.4 28.9,269.6 35.2,272.1 40.3,277.7 45.3,282.1 52.8,284.0 59.1,286.5 60.0,287.1 66.3,289.0 72.6,288.4 82.6,284.6 88.9,280.2 95.2,274.6 100.2,271.4 107.7,268.9 115.3,265.8 121.6,264.1 126.6,265.1 130.0,267.2 135.2,266.6 150.1,266.1 154.4,262.5 161.6,256.7 167.4,251.0 173.1,242.4 178.9,230.9 184.6,219.4 190.0,210.7 194.3,200.6 198.6,191.0 202.9,183.4 208.3,173.7 213.7,166.2 219.1,163.5 223.4,161.3 228.8,163.5 239.1,163.2 244.2,167.6 248.6,176.4 254.9,186.4 261.2,195.3 268.7,201.5 276.3,206.6 282.5,210.3 289.5,215.4 296.0,208.4 302.3,201.5 309.8,195.8 316.1,192.7 324.9,189.6 330.0,189.6 338.8,194.0 343.8,200.3 348.8,207.8 356.0,214.1 359.4,216.5 368.0,221.8 375.2,224.7 383.9,222.6 392.5,217.5 402.5,211.8 411.1,204.6 418.3,198.9 424.1,192.4 429.8,196.0 435.0,196.7 441.6,197.5 453.0,198.2 463.1,199.6 471.3,202.5 478.5,197.2 484.8,193.4 492.4,187.7 499.9,184.6 507.4,180.8 513.7,180.2 520.0,178.9 528.8,177.0 536.0,175.1 544.1,173.5 552.2,170.3 561.8,161.4 569.9,153.3 578.0,142.0 584.5,136.3 590.9,129.1 596.0,124.2 601.3,116.5 604.8,110.7 610.0,105.8 614.0,99.5 619.2,91.2" fill="none" stroke="#e8e000" stroke-width="1" shape-rendering="crispEdges"/><polyline points="3.8,265.8 7.5,267.0 12.6,269.6 18.9,274.0 25.2,273.3 32.7,274.0 37.7,280.9 44.0,287.8 50.3,294.1 56.6,296.0 60.0,295.3 64.4,297.2 71.3,289.0 76.3,282.1 81.4,275.2 86.4,268.9 91.4,263.3 96.4,259.5 100.2,259.5 105.2,262.0 110.3,265.2 115.3,267.0 120.3,267.7 125.3,269.5 130.0,271.1 134.3,269.0 140.1,266.8 150.1,263.9 154.4,253.9 158.7,248.1 164.5,241.6 168.8,233.7 173.1,223.7 178.9,210.7 183.5,196.3 188.9,182.3 193.2,174.8 196.5,167.2 198.6,159.7 201.9,153.2 205.1,150.5 210.5,150.5 217.0,152.2 220.2,155.4 223.4,161.9 227.7,171.6 229.9,175.9 234.2,177.5 239.1,176.4 243.5,180.2 248.6,187.7 254.9,197.8 258.0,205.3 263.0,216.6 265.6,220.4 270.6,220.4 273.7,219.2 278.1,220.4 283.8,215.4 288.8,209.1 296.0,197.7 301.0,187.7 306.1,180.1 311.1,175.7 314.9,175.7 321.2,182.6 327.4,191.4 332.5,200.3 337.5,210.3 343.8,219.1 348.8,225.4 356.0,226.0 363.7,226.1 370.9,226.9 378.1,223.3 385.3,220.4 392.5,210.3 398.2,204.6 404.0,201.7 412.6,193.1 421.2,184.5 424.8,182.3 429.8,191.7 435.0,196.0 441.6,203.2 449.5,214.7 453.0,206.1 460.2,200.3 470.3,193.9 480.3,188.8 486.1,184.5 494.7,178.8 500.5,178.0 509.1,174.5 518.6,176.8 528.7,176.8 537.3,174.6 545.9,169.6 554.5,163.1 558.9,154.5 564.6,145.9 570.3,135.8 574.7,125.7 579.0,120.5 586.0,120.3 589.6,114.5 598.9,111.5 604.7,101.7 611.8,88.0 619.5,70.5" fill="none" stroke="#f0f0f0" stroke-width="1" shape-rendering="crispEdges"/><g shape-rendering="crispEdges"><rect x="202" y="97" width="6" height="1" fill="#ffffff"/><rect x="204" y="95" width="1" height="5" fill="#ffffff"/><rect x="52" y="310" width="7" height="1" fill="#ffffff"/><rect x="54" y="308" width="1" height="4" fill="#ffffff"/><rect x="432" y="291" width="7" height="1" fill="#ffffff"/><rect x="434" y="289" width="1" height="4" fill="#ffffff"/><rect x="595" y="50" width="26" height="1" fill="#ffffff"/><rect x="619" y="47" width="1" height="5" fill="#ffffff"/></g><polyline points="434.5,291.2 494.0,162.4" fill="none" stroke="#8585ff" stroke-width="2.4" stroke-linejoin="round" stroke-linecap="round"/><polyline points="482.5,170.0 494.0,162.4 495.0,175.5" fill="none" stroke="#8585ff" stroke-width="2.4" stroke-linejoin="round" stroke-linecap="round"/><polyline points="504.4,164.0 530.8,164.2" fill="none" stroke="#8585ff" stroke-width="2.4" stroke-linejoin="round" stroke-linecap="round"/><polyline points="517.4,156.5 530.8,164.2 516.4,170.4" fill="none" stroke="#8585ff" stroke-width="2.4" stroke-linejoin="round" stroke-linecap="round"/><polyline points="519.4,184.4 573.2,91.0" fill="none" stroke="#8585ff" stroke-width="2.4" stroke-linejoin="round" stroke-linecap="round"/><polyline points="561.5,96.0 572.9,90.3 573.9,103.4" fill="none" stroke="#8585ff" stroke-width="2.4" stroke-linejoin="round" stroke-linecap="round"/><polyline points="573.9,100.2 589.4,99.4" fill="none" stroke="#8585ff" stroke-width="2.4" stroke-linejoin="round" stroke-linecap="round"/><polyline points="582.4,87.5 589.4,99.4" fill="none" stroke="#8585ff" stroke-width="2.4" stroke-linejoin="round" stroke-linecap="round"/><polyline points="589.4,111.4 614.0,41.5" fill="none" stroke="#8585ff" stroke-width="2.4" stroke-linejoin="round" stroke-linecap="round"/><polyline points="603.5,50.2 614.0,41.5 616.4,54.0" fill="none" stroke="#8585ff" stroke-width="2.4" stroke-linejoin="round" stroke-linecap="round"/><g shape-rendering="crispEdges"><rect x="4" y="407" width="1" height="3" fill="#3ddc84"/><rect x="9" y="407" width="1" height="3" fill="#3ddc84"/><rect x="14" y="407" width="1" height="2" fill="#3ddc84"/><rect x="19" y="407" width="1" height="3" fill="#3ddc84"/><rect x="24" y="407" width="1" height="2" fill="#3ddc84"/><rect x="29" y="407" width="1" height="4" fill="#3ddc84"/><rect x="34" y="407" width="1" height="4" fill="#3ddc84"/><rect x="39" y="407" width="1" height="6" fill="#3ddc84"/><rect x="44" y="407" width="1" height="8" fill="#3ddc84"/><rect x="49" y="407" width="1" height="9" fill="#3ddc84"/><rect x="54" y="407" width="1" height="8" fill="#3ddc84"/><rect x="59" y="407" width="1" height="5" fill="#3ddc84"/><rect x="64" y="407" width="1" height="5" fill="#3ddc84"/><rect x="69" y="407" width="1" height="1" fill="#ff3358"/><rect x="74" y="403" width="1" height="5" fill="#ff3358"/><rect x="79" y="398" width="1" height="10" fill="#ff3358"/><rect x="84" y="397" width="1" height="11" fill="#ff3358"/><rect x="89" y="396" width="1" height="12" fill="#ff3358"/><rect x="94" y="396" width="1" height="12" fill="#ff3358"/><rect x="99" y="396" width="1" height="12" fill="#ff3358"/><rect x="104" y="398" width="1" height="10" fill="#ff3358"/><rect x="109" y="402" width="1" height="6" fill="#ff3358"/><rect x="114" y="404" width="1" height="4" fill="#ff3358"/><rect x="119" y="402" width="1" height="6" fill="#ff3358"/><rect x="124" y="403" width="1" height="5" fill="#ff3358"/><rect x="129" y="406" width="1" height="2" fill="#ff3358"/><rect x="134" y="406" width="1" height="2" fill="#ff3358"/><rect x="139" y="404" width="1" height="4" fill="#ff3358"/><rect x="144" y="404" width="1" height="4" fill="#ff3358"/><rect x="149" y="403" width="1" height="5" fill="#ff3358"/><rect x="154" y="397" width="1" height="11" fill="#ff3358"/><rect x="159" y="396" width="1" height="12" fill="#ff3358"/><rect x="164" y="396" width="1" height="12" fill="#ff3358"/><rect x="169" y="391" width="1" height="17" fill="#ff3358"/><rect x="174" y="388" width="1" height="20" fill="#ff3358"/><rect x="179" y="382" width="1" height="26" fill="#ff3358"/><rect x="184" y="378" width="1" height="30" fill="#ff3358"/><rect x="189" y="379" width="1" height="29" fill="#ff3358"/><rect x="194" y="379" width="1" height="29" fill="#ff3358"/><rect x="199" y="373" width="1" height="35" fill="#ff3358"/><rect x="204" y="376" width="1" height="32" fill="#ff3358"/><rect x="209" y="384" width="1" height="24" fill="#ff3358"/><rect x="214" y="394" width="1" height="14" fill="#ff3358"/><rect x="219" y="402" width="1" height="6" fill="#ff3358"/><rect x="224" y="407" width="1" height="2" fill="#3ddc84"/><rect x="229" y="407" width="1" height="8" fill="#3ddc84"/><rect x="234" y="407" width="1" height="8" fill="#3ddc84"/><rect x="239" y="407" width="1" height="9" fill="#3ddc84"/><rect x="244" y="407" width="1" height="17" fill="#3ddc84"/><rect x="249" y="407" width="1" height="24" fill="#3ddc84"/><rect x="254" y="407" width="1" height="28" fill="#3ddc84"/><rect x="259" y="407" width="1" height="31" fill="#3ddc84"/><rect x="264" y="407" width="1" height="30" fill="#3ddc84"/><rect x="269" y="407" width="1" height="26" fill="#3ddc84"/><rect x="274" y="407" width="1" height="22" fill="#3ddc84"/><rect x="279" y="407" width="1" height="23" fill="#3ddc84"/><rect x="284" y="407" width="1" height="19" fill="#3ddc84"/><rect x="289" y="407" width="1" height="13" fill="#3ddc84"/><rect x="294" y="407" width="1" height="3" fill="#3ddc84"/><rect x="299" y="402" width="1" height="6" fill="#ff3358"/><rect x="304" y="401" width="1" height="7" fill="#ff3358"/><rect x="309" y="402" width="1" height="6" fill="#ff3358"/><rect x="314" y="404" width="1" height="4" fill="#ff3358"/><rect x="319" y="406" width="1" height="2" fill="#ff3358"/><rect x="324" y="407" width="1" height="3" fill="#3ddc84"/><rect x="329" y="407" width="1" height="10" fill="#3ddc84"/><rect x="334" y="407" width="1" height="11" fill="#3ddc84"/><rect x="339" y="407" width="1" height="16" fill="#3ddc84"/><rect x="344" y="407" width="1" height="15" fill="#3ddc84"/><rect x="349" y="407" width="1" height="15" fill="#3ddc84"/><rect x="354" y="407" width="1" height="16" fill="#3ddc84"/><rect x="359" y="407" width="1" height="14" fill="#3ddc84"/><rect x="364" y="407" width="1" height="13" fill="#3ddc84"/><rect x="369" y="407" width="1" height="10" fill="#3ddc84"/><rect x="374" y="407" width="1" height="6" fill="#3ddc84"/><rect x="379" y="407" width="1" height="2" fill="#3ddc84"/><rect x="384" y="407" width="1" height="2" fill="#3ddc84"/><rect x="389" y="403" width="1" height="5" fill="#ff3358"/><rect x="394" y="400" width="1" height="8" fill="#ff3358"/><rect x="399" y="398" width="1" height="10" fill="#ff3358"/><rect x="404" y="399" width="1" height="9" fill="#ff3358"/><rect x="409" y="396" width="1" height="12" fill="#ff3358"/><rect x="414" y="393" width="1" height="15" fill="#ff3358"/><rect x="419" y="391" width="1" height="17" fill="#ff3358"/><rect x="424" y="392" width="1" height="16" fill="#ff3358"/><rect x="429" y="406" width="1" height="2" fill="#ff3358"/><rect x="434" y="407" width="1" height="3" fill="#3ddc84"/><rect x="439" y="407" width="1" height="4" fill="#3ddc84"/><rect x="444" y="407" width="1" height="4" fill="#3ddc84"/><rect x="449" y="407" width="1" height="3" fill="#3ddc84"/><rect x="454" y="407" width="1" height="2" fill="#3ddc84"/><rect x="459" y="406" width="1" height="2" fill="#ff3358"/><rect x="464" y="404" width="1" height="4" fill="#ff3358"/><rect x="469" y="404" width="1" height="4" fill="#ff3358"/><rect x="474" y="402" width="1" height="6" fill="#ff3358"/><rect x="479" y="402" width="1" height="6" fill="#ff3358"/><rect x="484" y="401" width="1" height="7" fill="#ff3358"/><rect x="489" y="399" width="1" height="9" fill="#ff3358"/><rect x="494" y="398" width="1" height="10" fill="#ff3358"/><rect x="499" y="401" width="1" height="7" fill="#ff3358"/><rect x="504" y="401" width="1" height="7" fill="#ff3358"/><rect x="509" y="402" width="1" height="6" fill="#ff3358"/><rect x="514" y="405" width="1" height="3" fill="#ff3358"/><rect x="519" y="405" width="1" height="3" fill="#ff3358"/><rect x="524" y="406" width="1" height="2" fill="#ff3358"/><rect x="529" y="406" width="1" height="2" fill="#ff3358"/><rect x="534" y="405" width="1" height="3" fill="#ff3358"/><rect x="539" y="405" width="1" height="3" fill="#ff3358"/><rect x="544" y="403" width="1" height="5" fill="#ff3358"/><rect x="549" y="403" width="1" height="5" fill="#ff3358"/><rect x="554" y="401" width="1" height="7" fill="#ff3358"/><rect x="559" y="394" width="1" height="14" fill="#ff3358"/><rect x="564" y="395" width="1" height="13" fill="#ff3358"/><rect x="569" y="393" width="1" height="15" fill="#ff3358"/><rect x="574" y="389" width="1" height="19" fill="#ff3358"/><rect x="579" y="389" width="1" height="19" fill="#ff3358"/><rect x="584" y="392" width="1" height="16" fill="#ff3358"/><rect x="589" y="393" width="1" height="15" fill="#ff3358"/><rect x="594" y="396" width="1" height="12" fill="#ff3358"/><rect x="599" y="394" width="1" height="14" fill="#ff3358"/><rect x="604" y="388" width="1" height="20" fill="#ff3358"/><rect x="609" y="388" width="1" height="20" fill="#ff3358"/><rect x="614" y="385" width="1" height="23" fill="#ff3358"/><rect x="619" y="384" width="1" height="24" fill="#ff3358"/></g><polyline points="3.8,411.5 17.1,411.5 30.0,412.5 39.1,413.6 47.1,415.3 52.8,416.5 63.0,417.0 69.9,416.5 77.9,414.8 87.0,413.0 96.1,410.8 104.1,409.4 110.0,407.9 117.0,407.9 124.9,407.1 134.9,406.4 144.9,406.1 149.9,404.9 154.9,403.9 160.8,402.4 166.8,399.9 175.0,397.0 185.0,390.9 195.0,383.9 204.9,374.9 213.9,370.0 224.9,370.2 232.8,372.4 239.8,373.9 245.0,375.9 255.5,380.8 265.8,390.2 276.0,395.3 286.3,400.4 291.4,401.3 300.0,400.4 310.2,399.2 320.5,399.2 327.3,400.4 337.6,403.8 346.1,405.6 355.0,409.2 365.3,412.4 372.1,414.6 385.8,414.6 399.4,412.4 413.1,408.1 423.4,404.7 433.6,404.4 445.6,405.6 457.6,405.6 474.7,404.4 488.7,400.7 502.4,399.0 517.7,397.8 531.4,397.3 543.4,396.4 551.8,395.6 556.4,393.9 563.2,391.6 572.4,388.2 581.5,384.8 590.6,381.9 595.1,380.8 602.0,378.5 608.8,375.1 619.1,370.5" fill="none" stroke="#e8e000" stroke-width="1" shape-rendering="crispEdges"/><polyline points="3.8,412.4 12.0,412.4 17.1,413.2 22.2,413.7 34.2,414.0 41.0,417.5 46.2,419.2 65.0,419.2 71.8,416.6 80.3,410.6 92.3,407.2 99.1,404.7 105.0,403.9 109.0,406.9 117.0,406.7 126.9,405.7 130.9,406.9 136.9,405.7 142.9,403.9 148.9,403.1 154.9,399.9 159.8,396.9 164.8,396.0 169.8,391.0 175.0,388.5 180.0,380.9 185.0,375.4 189.0,372.0 193.9,369.5 198.9,363.0 203.9,360.0 209.9,360.0 214.9,364.5 218.9,366.5 225.8,373.0 230.8,375.4 236.8,375.9 240.8,378.9 245.0,383.9 248.7,389.3 255.5,396.2 260.6,401.3 267.5,403.8 277.7,407.8 286.3,407.8 291.4,405.6 298.2,399.6 304.2,396.2 310.2,397.0 318.8,397.9 323.9,399.6 330.7,405.6 337.6,409.0 344.4,413.2 355.0,416.7 361.8,418.4 368.7,418.4 375.5,415.8 387.5,414.1 394.3,409.8 406.3,404.7 414.8,400.4 423.4,396.2 430.2,402.1 437.1,405.6 447.3,406.1 457.6,406.1 464.4,403.8 473.0,401.3 485.3,399.8 492.1,396.4 502.4,396.1 512.6,397.3 522.9,397.3 533.1,396.1 541.7,395.6 545.0,394.4 550.7,394.4 554.1,392.2 559.2,387.0 563.2,386.5 567.8,384.2 572.4,380.8 578.0,377.4 582.6,376.8 587.2,375.3 595.1,375.3 599.7,373.4 605.4,367.7 611.1,364.2 615.7,360.3 619.1,359.1" fill="none" stroke="#f0f0f0" stroke-width="1" shape-rendering="crispEdges"/><polyline points="4.5,528.2 9.5,524.5 14.5,518.4 19.5,529.4 24.5,520.8 29.5,529.4 34.5,525.7 39.5,534.3 44.5,538.0 49.5,538.5 54.5,528.2 59.5,526.2 64.5,531.1 69.5,518.4 74.5,512.9 79.5,504.8 84.5,513.9 89.5,511.0 94.5,508.0 99.5,509.0 104.5,517.1 109.5,523.3 114.5,517.1 119.5,511.2 124.5,514.1 129.5,528.6 134.5,513.6 139.5,510.2 144.5,512.4 149.5,509.8 154.5,490.7 159.5,502.6 164.5,500.9 169.5,486.2 174.5,485.0 179.5,474.8 184.5,472.2 189.5,475.3 194.5,473.1 199.5,461.1 204.5,479.1 209.5,491.0 214.5,503.3 219.5,503.8 224.5,506.1 229.5,509.8 234.5,500.4 239.5,501.3 244.5,522.6 249.5,529.5 254.5,528.3 259.5,536.3 264.5,523.2 269.5,519.2 274.5,521.8 279.5,530.3 284.5,520.9 289.5,511.9 294.5,499.6 299.5,500.4 304.5,506.4 309.5,512.9 314.5,514.6 319.5,516.3 324.5,519.7 329.5,534.1 334.5,534.1 339.5,531.7 344.5,529.5 349.5,530.3 354.5,534.1 359.5,533.4 364.5,535.8 369.5,527.8 374.5,522.1 379.5,516.7 384.5,526.1 389.5,509.8 394.5,508.5 399.5,506.4 404.5,514.1 409.5,504.7 414.5,497.9 419.5,495.3 424.5,499.6 429.5,540.3 434.5,523.8 439.5,521.5 444.5,517.5 449.5,518.4 454.5,515.8 459.5,515.3 464.5,508.5 469.5,513.6 474.5,507.3 479.5,508.2 484.5,506.9 489.5,499.3 494.5,500.7 499.5,511.2 504.5,505.6 509.5,505.6 514.5,514.4 519.5,508.2 524.5,508.2 529.5,505.9 534.5,501.2 539.5,504.4 544.5,495.6 549.5,499.3 554.5,488.6 559.5,474.9 564.5,494.6 569.5,486.7 574.5,479.6 579.5,481.8 584.5,492.4 589.5,488.6 594.5,492.1 599.5,482.0 604.5,471.5 609.5,477.8 614.5,471.5 619.5,470.5" fill="none" stroke="#e020e8" stroke-width="1" shape-rendering="crispEdges"/><text x="3.2" y="16.6" font-family="Liberation Sans, sans-serif" font-size="12" font-weight="normal" fill="#e8e8e8" text-anchor="start" textLength="25" lengthAdjust="spacingAndGlyphs" stroke="#e8e8e8" stroke-width="0.2">LME</text><text x="120" y="16.6" font-family="Liberation Sans, sans-serif" font-size="12" font-weight="normal" fill="#e8e8e8" text-anchor="start" textLength="116" lengthAdjust="spacingAndGlyphs" stroke="#e8e8e8" stroke-width="0.2">MA1(5,10,20,30,100)</text><text x="241" y="16.6" font-family="Liberation Sans, sans-serif" font-size="12" font-weight="normal" fill="#e8e8e8" text-anchor="start" textLength="82" lengthAdjust="spacingAndGlyphs" stroke="#e8e8e8" stroke-width="0.2">MA5:11636.00</text><text x="331" y="16.6" font-family="Liberation Sans, sans-serif" font-size="12" font-weight="normal" fill="#dcdc28" text-anchor="start" textLength="89.5" lengthAdjust="spacingAndGlyphs" stroke="#dcdc28" stroke-width="0.2">MA10:11233.75</text><text x="428.5" y="16.6" font-family="Liberation Sans, sans-serif" font-size="12" font-weight="normal" fill="#e028e0" text-anchor="start" textLength="82" lengthAdjust="spacingAndGlyphs" stroke="#e028e0" stroke-width="0.2">MA20:10681.4</text><text x="650" y="28.7" font-family="Liberation Sans, sans-serif" font-size="12" font-weight="normal" fill="#f03a48" text-anchor="start" textLength="50.5" lengthAdjust="spacingAndGlyphs" stroke="#f03a48" stroke-width="0.1">12492.80</text><text x="650" y="91.2" font-family="Liberation Sans, sans-serif" font-size="12" font-weight="normal" fill="#f03a48" text-anchor="start" textLength="50.5" lengthAdjust="spacingAndGlyphs" stroke="#f03a48" stroke-width="0.1">11290.24</text><text x="650" y="153.2" font-family="Liberation Sans, sans-serif" font-size="12" font-weight="normal" fill="#f03a48" text-anchor="start" textLength="50.5" lengthAdjust="spacingAndGlyphs" stroke="#f03a48" stroke-width="0.1">10203.44</text><text x="650" y="215.8" font-family="Liberation Sans, sans-serif" font-size="12" font-weight="normal" fill="#f03a48" text-anchor="start" textLength="44.5" lengthAdjust="spacingAndGlyphs" stroke="#f03a48" stroke-width="0.1">9221.26</text><text x="650" y="278.2" font-family="Liberation Sans, sans-serif" font-size="12" font-weight="normal" fill="#f03a48" text-anchor="start" textLength="44.5" lengthAdjust="spacingAndGlyphs" stroke="#f03a48" stroke-width="0.1">8333.62</text><text x="649.5" y="360.8" font-family="Liberation Sans, sans-serif" font-size="12" font-weight="normal" fill="#f03a48" text-anchor="start" textLength="37.5" lengthAdjust="spacingAndGlyphs" stroke="#f03a48" stroke-width="0.1">521.00</text><text x="649.5" y="388.2" font-family="Liberation Sans, sans-serif" font-size="12" font-weight="normal" fill="#f03a48" text-anchor="start" textLength="37.5" lengthAdjust="spacingAndGlyphs" stroke="#f03a48" stroke-width="0.1">236.81</text><text x="649.5" y="414.6" font-family="Liberation Sans, sans-serif" font-size="12" font-weight="normal" fill="#f03a48" text-anchor="start" textLength="37.5" lengthAdjust="spacingAndGlyphs" stroke="#f03a48" stroke-width="0.1">-47.39</text><text x="649.5" y="464.2" font-family="Liberation Sans, sans-serif" font-size="12" font-weight="normal" fill="#f03a48" text-anchor="start" textLength="30.5" lengthAdjust="spacingAndGlyphs" stroke="#f03a48" stroke-width="0.1">80.38</text><text x="649.5" y="490.8" font-family="Liberation Sans, sans-serif" font-size="12" font-weight="normal" fill="#f03a48" text-anchor="start" textLength="30.5" lengthAdjust="spacingAndGlyphs" stroke="#f03a48" stroke-width="0.1">66.20</text><text x="649.5" y="517.7" font-family="Liberation Sans, sans-serif" font-size="12" font-weight="normal" fill="#f03a48" text-anchor="start" textLength="30.5" lengthAdjust="spacingAndGlyphs" stroke="#f03a48" stroke-width="0.1">52.02</text><text x="3.5" y="349.7" font-family="Liberation Sans, sans-serif" font-size="12" font-weight="normal" fill="#e8e8e8" text-anchor="start" textLength="86" lengthAdjust="spacingAndGlyphs" stroke="#e8e8e8" stroke-width="0.2">MACD(26,12,9)</text><text x="93.5" y="349.7" font-family="Liberation Sans, sans-serif" font-size="12" font-weight="normal" fill="#e8e8e8" text-anchor="start" textLength="66" lengthAdjust="spacingAndGlyphs" stroke="#e8e8e8" stroke-width="0.2">DIFF:521.00</text><text x="167" y="349.7" font-family="Liberation Sans, sans-serif" font-size="12" font-weight="normal" fill="#dcdc28" text-anchor="start" textLength="64.5" lengthAdjust="spacingAndGlyphs" stroke="#dcdc28" stroke-width="0.2">DEA:401.37</text><text x="240" y="349.7" font-family="Liberation Sans, sans-serif" font-size="12" font-weight="normal" fill="#e028e0" text-anchor="start" textLength="77.5" lengthAdjust="spacingAndGlyphs" stroke="#e028e0" stroke-width="0.2">MACD:239.27</text><text x="3.5" y="452.9" font-family="Liberation Sans, sans-serif" font-size="12" font-weight="normal" fill="#e8e8e8" text-anchor="start" textLength="75" lengthAdjust="spacingAndGlyphs" stroke="#e8e8e8" stroke-width="0.2">RSI(14,14,14)</text><text x="83" y="452.9" font-family="Liberation Sans, sans-serif" font-size="12" font-weight="normal" fill="#e8e8e8" text-anchor="start" textLength="58" lengthAdjust="spacingAndGlyphs" stroke="#e8e8e8" stroke-width="0.2">RSI1:75.31</text><text x="150" y="452.9" font-family="Liberation Sans, sans-serif" font-size="12" font-weight="normal" fill="#dcdc28" text-anchor="start" textLength="58" lengthAdjust="spacingAndGlyphs" stroke="#dcdc28" stroke-width="0.2">RSI2:75.31</text><text x="219.5" y="452.9" font-family="Liberation Sans, sans-serif" font-size="12" font-weight="normal" fill="#e028e0" text-anchor="start" textLength="58" lengthAdjust="spacingAndGlyphs" stroke="#e028e0" stroke-width="0.2">RSI3:75.31</text><text x="210" y="93.5" font-family="Liberation Sans, sans-serif" font-size="12" font-weight="bold" fill="#ff3050" text-anchor="start" textLength="48.5" lengthAdjust="spacingAndGlyphs" stroke="#ff3050" stroke-width="0.15">11104.50</text><text x="543" y="46.7" font-family="Liberation Sans, sans-serif" font-size="12" font-weight="bold" fill="#ff3050" text-anchor="start" textLength="50" lengthAdjust="spacingAndGlyphs" stroke="#ff3050" stroke-width="0.15">11996.00</text><text x="59.5" y="321.7" font-family="Liberation Sans, sans-serif" font-size="12" font-weight="bold" fill="#3cc878" text-anchor="start" textLength="44.3" lengthAdjust="spacingAndGlyphs" stroke="#3cc878" stroke-width="0.15">7856.00</text><text x="439.4" y="302.8" font-family="Liberation Sans, sans-serif" font-size="12" font-weight="bold" fill="#3cc878" text-anchor="start" textLength="43.8" lengthAdjust="spacingAndGlyphs" stroke="#3cc878" stroke-width="0.15">8105.00</text><text x="106" y="554" font-family="Liberation Sans, sans-serif" font-size="12.5" font-weight="bold" fill="#d0d0d0" text-anchor="start" textLength="28" lengthAdjust="spacingAndGlyphs" stroke="#d0d0d0" stroke-width="0.2">2024</text><text x="366" y="554" font-family="Liberation Sans, sans-serif" font-size="12.5" font-weight="bold" fill="#d0d0d0" text-anchor="start" textLength="28" lengthAdjust="spacingAndGlyphs" stroke="#d0d0d0" stroke-width="0.2">2025</text><text x="574" y="532.5" font-family="Liberation Sans, sans-serif" font-size="30.5" fill="#e6eaf0" textLength="96.5" lengthAdjust="spacing" stroke="#2a2015" stroke-width="0.5" paint-order="stroke">FX678</text><g transform="translate(28.8,7.2)" fill="none" stroke="#e8e8e8" stroke-width="1.25" stroke-linecap="square"><path d="M2.5,0.5 L0.5,3.5 M1.5,2.5 H4.5 M0.8,5.5 H4.5 M1,8 H4.5 M2.7,2.5 V10.5 L4.8,9"/><path d="M5.5,10.8 V0.8 H10.5 V10 L9.5,10.8 M7,3 H9.2 M7,5 H9.2 V8.5 H7 Z"/></g><path transform="translate(45.6,7.6)" d="M4,0 H1 L0,1.2 V9.8 L1,11 H4 L2.6,9.6 V1.4 Z" fill="#e8a030"/><g transform="translate(51.8,7.2)" fill="none" stroke="#e8a030" stroke-width="1.25" stroke-linecap="square"><path d="M1.5,0.8 V7 L0.3,10.8 M1.5,0.8 H10.3 V10 L9.3,10.8"/><path d="M3.3,2.8 H8.3 M5.8,1.8 V4.8 M3,4.8 H8.6 M3.8,6.8 H7.8 V9.3 H3.8 Z"/></g><g transform="translate(64,7.2)" fill="none" stroke="#e8a030" stroke-width="1.25" stroke-linecap="square"><path d="M2.8,0.5 L0.8,3.8 L3.3,4 L0.8,7.5 L4,6.8 M0.5,10.3 L4.3,9"/><path d="M5.5,3.5 L11.3,2.7 M5,6.5 L11.8,5.5 M7.8,0.5 L8.8,7 L11.5,10.5 M11.5,8.3 L6,10.8 M9.8,0.8 L10.8,1.8"/></g><path transform="translate(77.5,7.6)" d="M0,0 H3 L4,1.2 V9.8 L3,11 H0 L1.4,9.6 V1.4 Z" fill="#e8a030"/><g fill="none" stroke="#e8a030" stroke-width="1"><circle cx="93" cy="14.4" r="3.9"/><path d="M89.5,14.4 H96.5 M93,10.9 V17.9" stroke="#c08a2a"/></g><g shape-rendering="crispEdges"><rect x="106" y="17" width="12" height="1" fill="#808080"/><rect x="117" y="5" width="1" height="13" fill="#808080"/><rect x="105.5" y="4.5" width="11" height="12" fill="#ffffff" stroke="#1010b0" stroke-width="1"/></g><polyline points="106.5,11.7 109.7,7.6 112.5,10.3 115.8,8.2" fill="none" stroke="#ff2020" stroke-width="1.1"/><polyline points="106.5,14.8 109.7,10.7 112.5,13.4 115.8,11.2" fill="none" stroke="#2030ff" stroke-width="1.1"/><g shape-rendering="crispEdges"><rect x="583.5" y="4.5" width="13" height="13" fill="none" stroke="#a8a8a8" stroke-width="1"/><rect x="599.5" y="4.5" width="13" height="13" fill="none" stroke="#a8a8a8" stroke-width="1"/><rect x="615.5" y="4.5" width="13" height="13" fill="none" stroke="#a8a8a8" stroke-width="1"/><rect x="631.5" y="4.5" width="13" height="13" fill="none" stroke="#a8a8a8" stroke-width="1"/></g><g fill="#a8a8a8" shape-rendering="crispEdges"><rect x="585" y="10" width="3" height="2"/><rect x="589" y="10" width="2" height="2"/><rect x="592" y="10" width="3" height="2"/><rect x="589" y="6" width="2" height="3"/><rect x="589" y="13" width="2" height="3"/></g><g fill="none" stroke="#a8a8a8" stroke-width="1"><path d="M602.5,6.5 V15.5 M601,14.5 H611"/></g><g fill="#a8a8a8"><path d="M602.5,5.6 L604.3,8 H600.7 Z M611.8,14.5 L609.5,12.8 V16.2 Z M600.5,14.5 L602.6,12.9 V16.1 Z"/><rect x="605" y="7.2" width="1.4" height="5.5"/><path d="M606.6,10 L609,7.7 V12.3 Z"/></g><g fill="none" stroke="#a8a8a8" stroke-width="1"><path d="M618.5,6.5 V15.5 M617,14.5 H627"/></g><g fill="#a8a8a8"><path d="M618.5,5.6 L620.3,8 H616.7 Z M627.8,14.5 L625.5,12.8 V16.2 Z M616.5,14.5 L618.6,12.9 V16.1 Z"/><path d="M620.8,7.3 L626.3,10.5 L620.8,13.8 Z" fill-opacity="0.8"/></g><g fill="none" stroke="#a8a8a8" stroke-width="1"><rect x="633.5" y="6.5" width="2.8" height="9"/><path d="M636.3,10.5 H640"/></g><path d="M642.2,10.5 L639.3,8.2 V12.8 Z" fill="#a8a8a8"/></svg></body></html>
